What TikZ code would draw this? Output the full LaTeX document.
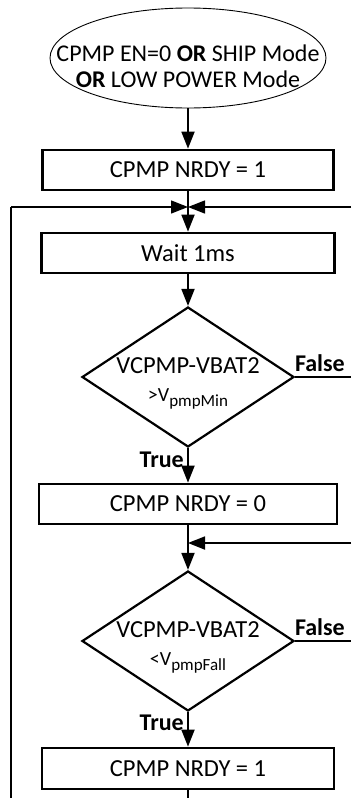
\documentclass[tikz,border=0pt]{standalone}
\usepackage{fontspec}
\setmainfont{Carlito}
\usetikzlibrary{shapes.geometric,arrows.meta}

\tikzset{
  startstop/.style={draw, ellipse, line width=0.9pt, minimum width=276pt, minimum height=100pt, inner sep=0pt},
  proc/.style={draw, line width=2.6pt, minimum width=292pt, minimum height=40pt, inner sep=0pt},
  decision/.style={draw, diamond, line width=2.2pt, minimum width=212pt, minimum height=140pt, inner sep=0pt},
  flow/.style={line width=1.8pt},
  thin flow/.style={line width=1.4pt},
  tf/.style={font=\fontsize{24}{27}\selectfont\bfseries}
}
\newcommand{\subtxt}[2]{{\fontsize{20}{22}\selectfont #1\raisebox{-5pt}{\fontsize{17}{17}\selectfont #2}}}

\begin{document}
\begin{tikzpicture}[x=1pt, y=-1pt, >={Triangle[length=17pt,width=13pt]}, font=\fontsize{24.5}{27}\selectfont]
    \useasboundingbox (0,0) rectangle (351,798);

    % 開始条件
    \node[startstop] (start) at (188,58) {};
    \node[align=center, font=\fontsize{24}{26}\selectfont] (starttxt) at (188,66) {CPMP EN=0 \textbf{OR} SHIP Mode\\\textbf{OR} LOW POWER Mode};

    % 処理ブロック
    \node[proc, minimum width=291pt] (nrdyA) at (188,170) {CPMP NRDY = 1};
    \node[proc, minimum width=293pt] (wait) at (188,253) {Wait 1ms};
    \node[proc, minimum width=298pt] (nrdyB) at (188,504) {CPMP NRDY = 0};
    \node[proc, minimum height=41pt] (nrdyC) at (188,768.5) {CPMP NRDY = 1};

    % 判定
    \node[decision] (chkA) at (188,377) {};
    \node[align=center] (chkAtxt) at (188,383) {VCPMP-VBAT2\\[1pt]\subtxt{>V}{pmpMin}};
    \node[decision] (chkB) at (188,641) {};
    \node[align=center] (chkBtxt) at (188,647) {VCPMP-VBAT2\\[1pt]\subtxt{<V}{pmpFall}};

    % 端の点
    \coordinate (loopL) at (11,207);
    \coordinate (loopR) at (351,207);
    \coordinate (mergeA) at (188,207);
    \coordinate (botL) at (11,798);
    \coordinate (botC) at (188,798);
    \coordinate (inB) at (351,543);
    \coordinate (mergeB) at (188,543);
    \coordinate (falseA) at (351,377);
    \coordinate (falseB) at (351,641);

    % 流れ
    \draw[flow,->] (start) -- (nrdyA);
    \draw[flow,->] (nrdyA) -- (wait);
    \draw[flow,->] (wait) -- (chkA);
    \draw[flow,->] (chkA) -- node[tf, left, pos=0.35] (trueA) {True} (nrdyB);
    \draw[flow,->] (nrdyB) -- (chkB);
    \draw[flow,->] (chkB) -- node[tf, left, pos=0.32] (trueB) {True} (nrdyC);
    \draw[flow] (nrdyC) -- (botC);

    % False の分岐
    \draw[flow] (chkA) -- node[tf, pos=0, above right, inner sep=0pt, yshift=4.5pt, xshift=-1pt] (falseAtxt) {False} (falseA);
    \draw[flow] (chkB) -- node[tf, pos=0, above right, inner sep=0pt, yshift=4.5pt, xshift=-1pt] (falseBtxt) {False} (falseB);

    % 戻り線
    \draw[thin flow] (botL) -- (loopL);
    \draw[thin flow,->] (loopL) -- (mergeA);
    \draw[thin flow,->] (loopR) -- (mergeA);
    \draw[flow,->] (inB) -- (mergeB);
  \end{tikzpicture}
\end{document}
